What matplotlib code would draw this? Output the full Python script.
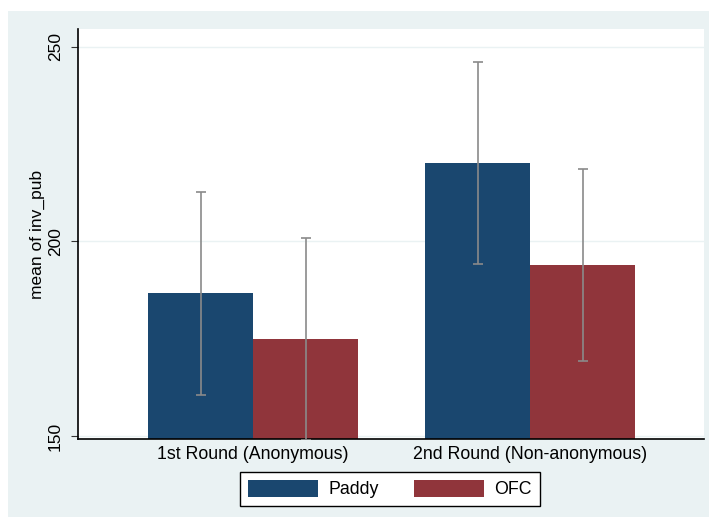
import numpy as np
import matplotlib.pyplot as plt
from matplotlib.patches import Rectangle

# data
categories = ['1st Round (Anonymous)', '2nd Round (Non-anonymous)']
groups = ['Paddy', 'OFC']
paddy_mean = [186.7, 220.2]
paddy_lo = [160.6, 194.3]
paddy_hi = [212.7, 246.1]
ofc_mean = [174.9, 194.0]
ofc_lo = [148.9, 169.3]
ofc_hi = [200.9, 218.7]

navy = '#1a476f'
maroon = '#90353b'
bg = '#eaf2f3'
err_col = '#8a8a8a'

plt.rcParams['font.family'] = ['Liberation Sans', 'DejaVu Sans']

W, H = 709, 518
fig = plt.figure(figsize=(W / 100, H / 100), dpi=100, facecolor='white')
# grey outer panel like Stata's s2color scheme
fig.patches.append(Rectangle((8 / W, 1 - 517 / H), (709 - 8) / W, (517 - 11) / H,
                             transform=fig.transFigure, facecolor=bg,
                             edgecolor='none', zorder=-10))

ax = fig.add_axes([78 / W, 1 - 439 / H, (704 - 78) / W, (439 - 29) / H])
ax.set_facecolor('white')

x = np.arange(len(categories))
w = 0.379
b1 = ax.bar(x - w / 2, paddy_mean, w, color=navy, zorder=2, label=groups[0])
b2 = ax.bar(x + w / 2, ofc_mean, w, color=maroon, zorder=2, label=groups[1])

for xs, m, lo, hi in [(x - w / 2, paddy_mean, paddy_lo, paddy_hi),
                      (x + w / 2, ofc_mean, ofc_lo, ofc_hi)]:
    m = np.array(m)
    yerr = [m - np.array(lo), np.array(hi) - m]
    ax.errorbar(xs, m, yerr=yerr, fmt='none', ecolor=err_col, elinewidth=1.2,
                capsize=3.3, capthick=1.2, zorder=3)

ax.set_xlim(-0.632, 1.628)
ax.set_ylim(149.23, 254.6)
ax.set_yticks([150, 200, 250])
ax.set_yticklabels(['150', '200', '250'], rotation=90, va='center', fontsize=12.5)
ax.set_xticks(x)
ax.set_xticklabels(categories, fontsize=12.8)
ax.tick_params(axis='x', length=0, pad=5)
ax.tick_params(axis='y', length=5, width=0.8, pad=6, color='#333333')
ax.grid(axis='y', color=bg, linewidth=1, zorder=0)
ax.set_axisbelow(True)

for s in ['top', 'right']:
    ax.spines[s].set_visible(False)
ax.spines['left'].set_linewidth(1.2)
ax.spines['bottom'].set_linewidth(1.2)

ax.set_ylabel('mean of inv_pub', fontsize=12.5, labelpad=2)

leg = fig.legend(handles=[b1, b2], labels=groups, loc='center',
                 bbox_to_anchor=(390 / W, 1 - 489 / H), ncol=2,
                 fontsize=12.8, frameon=True, fancybox=False, framealpha=1,
                 handlelength=3.9, handleheight=1.1, columnspacing=2.0,
                 handletextpad=0.6, borderpad=0.45)
leg.get_frame().set_edgecolor('black')
leg.get_frame().set_facecolor('white')
leg.get_frame().set_linewidth(1.0)

fig.savefig('out.png', dpi=100, facecolor='white')
